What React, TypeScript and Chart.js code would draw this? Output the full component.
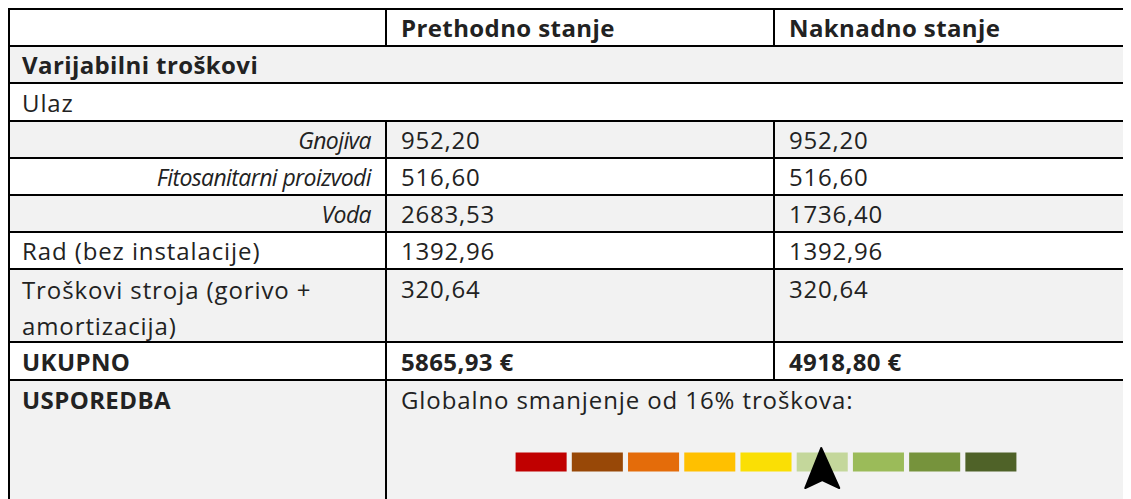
import React, { useEffect, useRef } from "react";
import { Chart, registerables } from "chart.js";

Chart.register(...registerables);

// ---------- data ----------
const HEADER_LABELS = ["", "Prethodno stanje", "Naknadno stanje"];
const SECTION_TITLE = "Varijabilni troškovi";
const SUBSECTION_TITLE = "Ulaz";
const INPUT_LABELS = ["Gnojiva", "Fitosanitarni proizvodi", "Voda"];
const INPUT_BEFORE = ["952,20", "516,60", "2683,53"];
const INPUT_AFTER = ["952,20", "516,60", "1736,40"];
const OTHER_LABELS = [["Rad (bez instalacije)"], ["Troškovi stroja (gorivo +", "amortizacija)"]];
const OTHER_BEFORE = ["1392,96", "320,64"];
const OTHER_AFTER = ["1392,96", "320,64"];
const TOTAL_ROW = ["UKUPNO", "5865,93 €", "4918,80 €"];
const COMPARISON_LABEL = "USPOREDBA";
const COMPARISON_TEXT = "Globalno smanjenje od 16% troškova:";

const SCALE_CATEGORIES = ["1", "2", "3", "4", "5", "6", "7", "8", "9"];
const SCALE_VALUES = [1, 1, 1, 1, 1, 1, 1, 1, 1];
const SCALE_COLORS = [
  "#C00000",
  "#984807",
  "#E46C0A",
  "#FFC000",
  "#FADF05",
  "#C4D79B",
  "#9BBB59",
  "#76933C",
  "#4F6228",
];
const ARROW_INDEX = 5;

// ---------- layout (page px; container sits at the body margin) ----------
const OX = 8;
const OY = 8;
const ROW_Y = [9, 46, 83, 121, 158, 195, 232, 269, 342, 380, 530];
const COL_X = [9, 386, 774, 1140];
const GRAY = "#F2F2F2";
const TEXT = "#222222";
const FONT = '"Open Sans", sans-serif';

type Kind = "label" | "num" | "bold" | "italic";
const STYLE_BY_KIND: Record<Kind, { size: number; weight: number; italic: boolean; spacing: number }> = {
  label: { size: 24, weight: 400, italic: false, spacing: 0.9 },
  num: { size: 24, weight: 400, italic: false, spacing: 0.8 },
  bold: { size: 24, weight: 700, italic: false, spacing: 0.4 },
  italic: { size: 23, weight: 400, italic: true, spacing: -0.6 },
};

function ScaleChart() {
  const ref = useRef<HTMLCanvasElement | null>(null);
  useEffect(() => {
    if (!ref.current) return;
    const arrowPlugin = {
      id: "arrow",
      afterDatasetsDraw(chart: any) {
        const ctx = chart.ctx;
        const x = chart.scales.x.getPixelForValue(ARROW_INDEX);
        ctx.save();
        ctx.fillStyle = "#000";
        ctx.strokeStyle = "#000";
        ctx.lineJoin = "round";
        ctx.lineWidth = 2;
        ctx.beginPath();
        ctx.moveTo(x - 1, 18);
        ctx.lineTo(x - 17, 58);
        ctx.lineTo(x, 50);
        ctx.lineTo(x + 17, 58);
        ctx.closePath();
        ctx.fill();
        ctx.stroke();
        ctx.restore();
      },
    };
    const chart = new Chart(ref.current, {
      type: "bar",
      data: {
        labels: SCALE_CATEGORIES,
        datasets: [
          {
            data: SCALE_VALUES,
            backgroundColor: SCALE_COLORS,
            borderWidth: 0,
            barPercentage: 0.908,
            categoryPercentage: 1,
          },
        ],
      },
      options: {
        responsive: false,
        animation: false,
        devicePixelRatio: 1,
        layout: { padding: 0 },
        plugins: { legend: { display: false }, tooltip: { enabled: false } },
        scales: {
          x: { display: false },
          y: { display: false, min: -1.447, max: 2.184 },
        },
      },
      plugins: [arrowPlugin],
    });
    return () => chart.destroy();
  }, []);
  return (
    <canvas
      ref={ref}
      width={506}
      height={69}
      style={{ position: "absolute", left: 513 - OX, top: 430 - OY, width: 506, height: 69 }}
    />
  );
}

type CellProps = {
  r0: number;
  r1: number;
  c0: number;
  c1: number;
  kind: Kind;
  align?: "left" | "right";
  top?: boolean;
  lines: string[];
};

function Cell({ r0, r1, c0, c1, kind, align = "left", top, lines }: CellProps) {
  const x0 = COL_X[c0];
  const x1 = COL_X[c1];
  const y0 = ROW_Y[r0];
  const y1 = ROW_Y[r1];
  const st = STYLE_BY_KIND[kind];
  return (
    <div
      style={{
        position: "absolute",
        left: x0 - OX,
        top: y0 - OY,
        width: x1 - x0,
        height: y1 - y0,
        boxSizing: "border-box",
        paddingLeft: align === "left" ? (c0 === 0 ? 13 : 15) : 0,
        paddingRight: align === "right" ? 15 : 0,
        paddingTop: top ? 3 : 0,
        display: "flex",
        flexDirection: "column",
        justifyContent: top ? "flex-start" : "center",
        alignItems: align === "right" ? "flex-end" : "flex-start",
        fontFamily: FONT,
        fontSize: st.size,
        fontWeight: st.weight,
        fontStyle: st.italic ? "italic" : "normal",
        letterSpacing: st.spacing,
        color: TEXT,
        whiteSpace: "nowrap",
        lineHeight: lines.length > 1 ? "36px" : "normal",
      }}
    >
      {lines.map((l, i) => (
        <span key={i}>{l}</span>
      ))}
    </div>
  );
}

export default function App() {
  const W = COL_X[3] - COL_X[0];
  const grayRows = [1, 3, 5, 7, 9];
  const hLines = ROW_Y.slice(0, 10);
  const vSegs: [number, number, number][] = [
    [COL_X[0], 0, 10],
    [COL_X[1], 0, 1],
    [COL_X[1], 3, 10],
    [COL_X[2], 0, 1],
    [COL_X[2], 3, 9],
  ];
  const cells: CellProps[] = [];
  cells.push({ r0: 0, r1: 1, c0: 1, c1: 2, kind: "bold", lines: [HEADER_LABELS[1]] });
  cells.push({ r0: 0, r1: 1, c0: 2, c1: 3, kind: "bold", lines: [HEADER_LABELS[2]] });
  cells.push({ r0: 1, r1: 2, c0: 0, c1: 3, kind: "bold", lines: [SECTION_TITLE] });
  cells.push({ r0: 2, r1: 3, c0: 0, c1: 3, kind: "label", lines: [SUBSECTION_TITLE] });
  INPUT_LABELS.forEach((lab, i) => {
    const r = 3 + i;
    cells.push({ r0: r, r1: r + 1, c0: 0, c1: 1, kind: "italic", align: "right", lines: [lab] });
    cells.push({ r0: r, r1: r + 1, c0: 1, c1: 2, kind: "num", lines: [INPUT_BEFORE[i]] });
    cells.push({ r0: r, r1: r + 1, c0: 2, c1: 3, kind: "num", lines: [INPUT_AFTER[i]] });
  });
  OTHER_LABELS.forEach((lab, i) => {
    const r = 6 + i;
    const multi = lab.length > 1;
    cells.push({ r0: r, r1: r + 1, c0: 0, c1: 1, kind: "label", top: multi, lines: lab });
    cells.push({ r0: r, r1: r + 1, c0: 1, c1: 2, kind: "num", top: multi, lines: [OTHER_BEFORE[i]] });
    cells.push({ r0: r, r1: r + 1, c0: 2, c1: 3, kind: "num", top: multi, lines: [OTHER_AFTER[i]] });
  });
  cells.push({ r0: 8, r1: 9, c0: 0, c1: 1, kind: "bold", lines: [TOTAL_ROW[0]] });
  cells.push({ r0: 8, r1: 9, c0: 1, c1: 2, kind: "bold", lines: [TOTAL_ROW[1]] });
  cells.push({ r0: 8, r1: 9, c0: 2, c1: 3, kind: "bold", lines: [TOTAL_ROW[2]] });
  cells.push({ r0: 9, r1: 10, c0: 0, c1: 1, kind: "bold", top: true, lines: [COMPARISON_LABEL] });
  cells.push({ r0: 9, r1: 10, c0: 1, c1: 3, kind: "label", top: true, lines: [COMPARISON_TEXT] });

  return (
    <div style={{ position: "relative", width: 1123, height: 491, overflow: "hidden", background: "#fff" }}>
      {grayRows.map((r) => (
        <div
          key={"bg" + r}
          style={{
            position: "absolute",
            left: COL_X[0] - OX,
            top: ROW_Y[r] - OY,
            width: W,
            height: ROW_Y[r + 1] - ROW_Y[r],
            background: GRAY,
          }}
        />
      ))}
      {cells.map((c, i) => (
        <Cell key={"c" + i} {...c} />
      ))}
      <ScaleChart />
      {hLines.map((y, i) => (
        <div
          key={"h" + i}
          style={{ position: "absolute", left: COL_X[0] - 1 - OX, top: y - 1 - OY, width: W + 2, height: 2, background: "#000" }}
        />
      ))}
      {vSegs.map(([x, a, b], i) => (
        <div
          key={"v" + i}
          style={{
            position: "absolute",
            left: x - 1 - OX,
            top: ROW_Y[a] - 1 - OY,
            width: 2,
            height: ROW_Y[b] - ROW_Y[a] + 2,
            background: "#000",
          }}
        />
      ))}
    </div>
  );
}
